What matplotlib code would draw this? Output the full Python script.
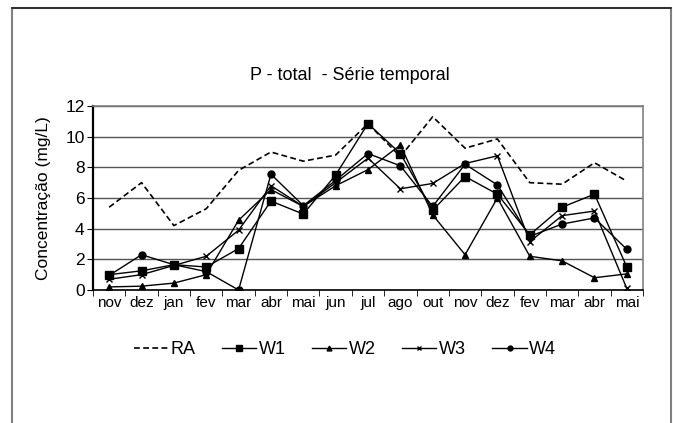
import numpy as np
import matplotlib.pyplot as plt
from matplotlib.patches import Rectangle
from matplotlib.lines import Line2D

plt.rcParams['font.family'] = ['Liberation Sans', 'DejaVu Sans']

months = ["nov", "dez", "jan", "fev", "mar", "abr", "mai", "jun", "jul", "ago",
          "out", "nov", "dez", "fev", "mar", "abr", "mai"]
ra = [5.4, 7.0, 4.2, 5.3, 7.8, 9.0, 8.4, 8.8, 10.85, 8.7, 11.3, 9.25, 9.85, 7.0, 6.9, 8.3, 7.1]
w1 = [1.0, 1.25, 1.65, 1.5, 2.7, 5.8, 4.95, 7.5, 10.85, 8.9, 5.2, 7.4, 6.25, 3.6, 5.4, 6.25, 1.5]
w2 = [0.2, 0.25, 0.45, 1.0, 4.55, 6.55, 5.45, 6.8, 7.85, 9.45, 4.9, 2.3, 6.0, 2.2, 1.9, 0.8, 1.05]
w3 = [0.7, 1.0, 1.6, 2.2, 3.9, 6.8, 5.45, 7.0, 8.6, 6.6, 6.95, 8.25, 8.75, 3.15, 4.85, 5.15, 0.1]
w4 = [0.95, 2.3, 1.65, 1.2, 0.0, 7.55, 5.5, 7.15, 8.9, 8.1, 5.45, 8.2, 6.85, 3.5, 4.3, 4.7, 2.65]

fig = plt.figure(figsize=(6.73, 4.23), dpi=100)
fig.add_artist(Rectangle((12 / 673, -0.02), 659 / 673, 1.0 - 8 / 423 + 0.02,
                         transform=fig.transFigure, fill=False, edgecolor='#808080', lw=1.5))
fig.add_artist(Line2D([12 / 673, 671 / 673], [1 - 8 / 423] * 2, transform=fig.transFigure,
                      color='#222222', lw=1.2))

ax = fig.add_axes([93 / 673, 133 / 423, 550 / 673, 184 / 423])
x = np.arange(len(months))

ax.plot(x, ra, color='black', lw=1.2, ls=(0, (3.5, 2)), label='RA')
ax.plot(x, w1, color='black', lw=1, marker='s', ms=6, label='W1')
ax.plot(x, w2, color='black', lw=1, marker='^', ms=5, label='W2')
ax.plot(x, w3, color='black', lw=1, marker='x', ms=5, mew=1, label='W3')
ax.plot(x, w4, color='black', lw=1, marker='o', ms=5, label='W4')

ax.set_xlim(-0.5, len(months) - 0.5)
ax.set_ylim(0, 12)
ax.set_yticks(range(0, 13, 2))
ax.yaxis.grid(True, color='#555555', lw=1)
ax.set_axisbelow(True)

ax.set_xticks(x)
ax.set_xticklabels(months, fontsize=11)
ax.set_xticks(np.arange(-0.5, len(months)), minor=True)
ax.tick_params(axis='x', which='major', length=0, pad=4)
ax.tick_params(axis='x', which='minor', length=4, direction='out', color='black')
ax.tick_params(axis='y', length=4, direction='out', labelsize=12.5, pad=2)

ax.spines['left'].set_linewidth(1.6)
ax.spines['bottom'].set_linewidth(1.2)
for s in ('top', 'right'):
    ax.spines[s].set_color('#808080')
    ax.spines[s].set_linewidth(1.2)

ax.set_ylabel('Concentração (mg/L)', fontsize=12.5, labelpad=10)
fig.text(350 / 673, 1 - 75 / 423, 'P - total  - Série temporal', ha='center', va='center', fontsize=13)

fig.legend(loc='center', bbox_to_anchor=(345 / 673, 1 - 350 / 423), ncol=5, frameon=False,
           fontsize=13, handlelength=1.9, handletextpad=0.15, columnspacing=1.45, markerscale=0.7)

fig.savefig('out.png', dpi=100)
